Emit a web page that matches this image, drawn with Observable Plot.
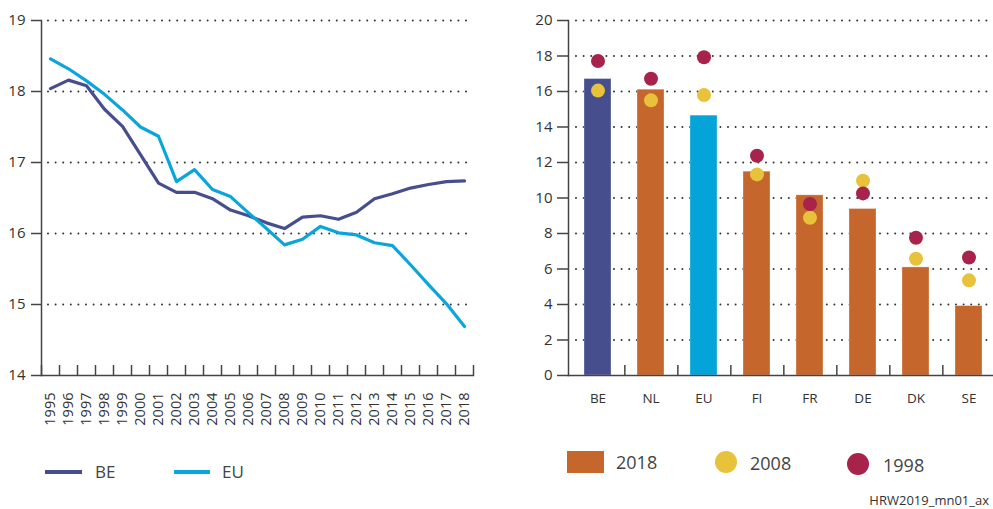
<!DOCTYPE html>
<html><head><meta charset="utf-8">
<script src="https://cdn.jsdelivr.net/npm/d3@7"></script>
<script src="https://cdn.jsdelivr.net/npm/@observablehq/plot@0.6"></script>
<style>
body{margin:0;background:#fff;font-family:"Open Sans",sans-serif;}
#wrap{position:relative;width:993px;height:509px;overflow:hidden;background:#fff;}
#left{position:absolute;left:0;top:0;width:480px;}
#right{position:absolute;left:500px;top:0;width:510px;}
#wrap svg{max-width:none !important;}
.txt{position:absolute;color:#444;white-space:nowrap;}
.sw{position:absolute;}
</style>
</head><body>
<div id="wrap">
  <div id="left"></div>
  <div id="right"></div>
</div>
<script>
// ---- data: left line chart ----
const years = [1995,1996,1997,1998,1999,2000,2001,2002,2003,2004,2005,2006,2007,2008,2009,2010,2011,2012,2013,2014,2015,2016,2017,2018];
const beValues = [18.04,18.16,18.08,17.75,17.51,17.11,16.71,16.58,16.58,16.49,16.33,16.25,16.15,16.07,16.23,16.25,16.20,16.30,16.49,16.56,16.64,16.69,16.73,16.74];
const euValues = [18.46,18.32,18.15,17.96,17.74,17.50,17.37,16.73,16.90,16.62,16.52,16.29,16.07,15.84,15.92,16.10,16.01,15.98,15.87,15.83,15.56,15.28,15.01,14.69];
const lineSeries = ["BE","EU"];
const lineColors = ["#474e8e","#0aa6db"];
const leftYTicks = [14,15,16,17,18,19];

// ---- data: right bar/dot chart ----
const countries = ["BE","NL","EU","FI","FR","DE","DK","SE"];
const values2018 = [16.70,16.10,14.64,11.48,10.15,9.38,6.09,3.91];
const values2008 = [16.05,15.50,15.80,11.33,8.89,10.97,6.58,5.36];
const values1998 = [17.72,16.72,17.93,12.38,9.66,10.26,7.76,6.65];
const barColors = ["#474e8e","#c5662c","#04a4d8","#c5662c","#c5662c","#c5662c","#c5662c","#c5662c"];
const rightYTicks = [0,2,4,6,8,10,12,14,16,18,20];
const legendLabels = ["2018","2008","1998"];
const caption = "HRW2019_mn01_ax";

const col2008 = "#e8c23a", col1998 = "#a8234b", colOrange = "#c5662c";
const axisCol = "#444", textCol = "#333";
const font = "Open Sans";

// left chart
const lineRows = [];
years.forEach((yr, i) => {
  lineRows.push({year: yr, value: beValues[i], series: "BE"});
  lineRows.push({year: yr, value: euValues[i], series: "EU"});
});
const bounds = years.map(y => y - 0.5).concat([years[years.length-1] + 0.5]);

const leftPlot = Plot.plot({
  width: 475, height: 440,
  marginLeft: 41, marginRight: 2, marginTop: 20, marginBottom: 65,
  style: {fontFamily: font, color: textCol, background: "transparent", overflow: "visible"},
  x: {domain: [years[0] - 0.5, years[years.length-1] + 0.5]},
  y: {domain: [14, 19]},
  color: {domain: lineSeries, range: lineColors},
  marks: [
    Plot.gridY(leftYTicks.slice(1), {stroke: "#333", strokeOpacity: 1, strokeWidth: 2, strokeDasharray: "0,7.6", strokeLinecap: "round", insetLeft: 7, insetRight: 5}),
    Plot.line(lineRows, {x: "year", y: "value", z: "series", stroke: "series", strokeWidth: 3.2, strokeLinejoin: "round"}),
    Plot.axisY({ticks: leftYTicks, tickSize: 10, tickPadding: 6, fontSize: 15, stroke: axisCol, strokeWidth: 1.5, tickFormat: "d", label: null}),
    Plot.axisX({ticks: years, tickSize: 0, tickPadding: 17, tickRotate: -90, tickFormat: "d", fontSize: 14.5, label: null}),
    Plot.tickX(bounds, {x: d => d, insetTop: 345, stroke: axisCol, strokeWidth: 1.5}),
    Plot.frame({anchor: "left", stroke: axisCol, strokeWidth: 1.5}),
    Plot.frame({anchor: "bottom", stroke: axisCol, strokeWidth: 1.5})
  ]
});
document.getElementById("left").appendChild(leftPlot);

// right chart
const step = 53.7;
const barRows = countries.map((c, i) => ({country: c, value: values2018[i]}));
const rows2008 = countries.map((c, i) => ({country: c, value: values2008[i]}));
const rows1998 = countries.map((c, i) => ({country: c, value: values1998[i]}));

const rightPlot = Plot.plot({
  width: 68 + countries.length * step, height: 440,
  marginLeft: 68, marginRight: 0, marginTop: 20, marginBottom: 65,
  style: {fontFamily: font, color: textCol, background: "transparent", overflow: "visible"},
  x: {domain: countries, paddingInner: 0.5, paddingOuter: 0.25, align: 0.5},
  y: {domain: [0, 20]},
  color: {domain: countries, range: barColors},
  marks: [
    Plot.gridY(rightYTicks.slice(1), {stroke: "#333", strokeOpacity: 1, strokeWidth: 2, strokeDasharray: "0,7.6", strokeLinecap: "round", insetLeft: 8}),
    Plot.barY(barRows, {x: "country", y: "value", fill: "country", stroke: "#fff", strokeOpacity: 0.3, strokeWidth: 1}),
    Plot.dot(rows2008, {x: "country", y: "value", r: 7, fill: col2008}),
    Plot.dot(rows1998, {x: "country", y: "value", r: 7, fill: col1998}),
    Plot.axisY({ticks: rightYTicks, tickSize: 11, tickPadding: 5, fontSize: 15, stroke: axisCol, strokeWidth: 1.5, tickFormat: "d", label: null}),
    Plot.axisX({tickSize: 0, tickPadding: 18, fontSize: 13.5, label: null}),
    Plot.tickX(countries, {x: d => d, dx: step / 2, insetTop: 345, stroke: axisCol, strokeWidth: 1.5}),
    Plot.frame({anchor: "left", stroke: axisCol, strokeWidth: 1.5}),
    Plot.frame({anchor: "bottom", stroke: axisCol, strokeWidth: 1.5})
  ]
});
document.getElementById("right").appendChild(rightPlot);

// legends (HTML)
const wrap = document.getElementById("wrap");
function add(html) { wrap.insertAdjacentHTML("beforeend", html); }
// left legend
add(`<div class="sw" style="left:45px;top:470px;width:37px;height:4px;background:${lineColors[0]}"></div>`);
add(`<div class="txt" style="left:95px;top:461px;font-size:17px;line-height:22px">${lineSeries[0]}</div>`);
add(`<div class="sw" style="left:174px;top:470px;width:36px;height:4px;background:${lineColors[1]}"></div>`);
add(`<div class="txt" style="left:222px;top:461px;font-size:17px;line-height:22px">${lineSeries[1]}</div>`);
// right legend
add(`<div class="sw" style="left:567px;top:451px;width:37px;height:22px;background:${colOrange}"></div>`);
add(`<div class="txt" style="left:616px;top:450px;font-size:18px;line-height:24px">${legendLabels[0]}</div>`);
add(`<div class="sw" style="left:715px;top:451px;width:22px;height:22px;border-radius:50%;background:${col2008}"></div>`);
add(`<div class="txt" style="left:750px;top:451px;font-size:18px;line-height:24px">${legendLabels[1]}</div>`);
add(`<div class="sw" style="left:847px;top:453px;width:22px;height:22px;border-radius:50%;background:${col1998}"></div>`);
add(`<div class="txt" style="left:883px;top:453px;font-size:18px;line-height:24px">${legendLabels[2]}</div>`);
// caption
add(`<div class="txt" style="right:4px;top:492px;font-size:13px;line-height:16px;color:#333">${caption}</div>`);
</script>
</body></html>
